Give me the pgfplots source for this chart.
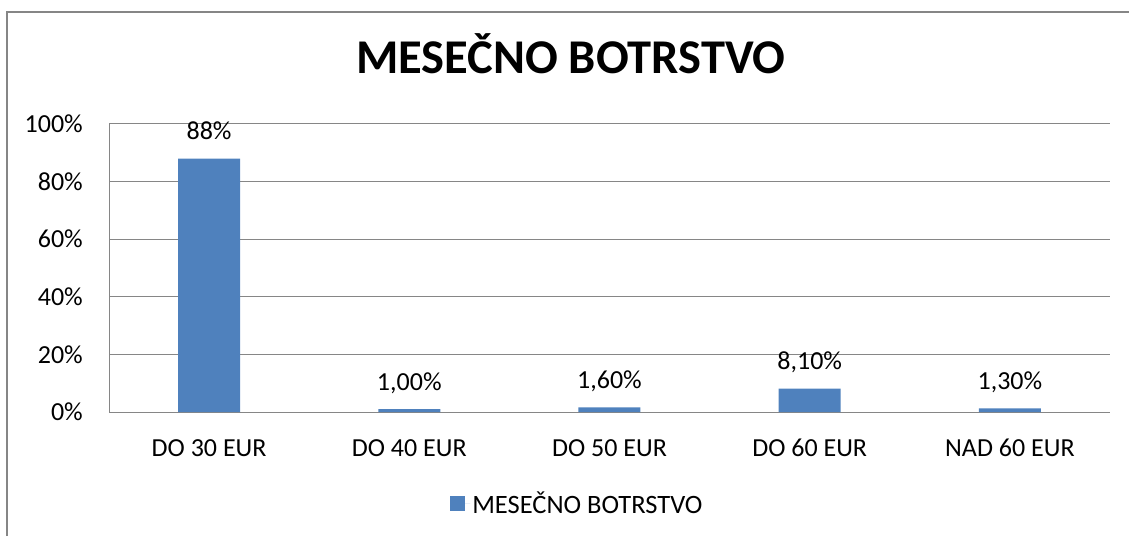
\documentclass[border=0pt]{standalone}
\usepackage{fontspec}
\setmainfont{Carlito}
\usepackage{pgfplots}
\pgfplotsset{compat=1.18}
\definecolor{barblue}{RGB}{79,129,189}
\definecolor{gridgray}{RGB}{134,134,134}
\definecolor{framegray}{RGB}{134,134,134}
\begin{document}
\begin{tikzpicture}
\useasboundingbox (0pt,0pt) rectangle (1129pt,536pt);
\draw[framegray, line width=2pt] (7pt,0pt) -- (7pt,524pt) -- (1129pt,524pt);
\begin{axis}[
  at={(109pt,124pt)}, anchor=south west,
  scale only axis, width=1001pt, height=288pt,
  ybar, bar width=62pt,
  xmin=-0.5, xmax=4.5, ymin=0, ymax=100,
  xtick={0,...,4},
  xticklabels={DO 30 EUR, DO 40 EUR, DO 50 EUR, DO 60 EUR, NAD 60 EUR},
  ytick={0,20,...,100},
  yticklabels={0\%,20\%,40\%,60\%,80\%,100\%},
  axis x line*=bottom, axis y line*=left,
  axis line style={gridgray, line width=1pt, -},
  ymajorgrids, grid style={gridgray, line width=1pt},
  major tick length=0pt,
  tick style={draw=none},
  font=\fontsize{26}{30}\selectfont,
  xticklabel style={anchor=base, inner sep=0pt, yshift=-44pt},
  yticklabel style={anchor=east, inner sep=0pt, xshift=-26pt},
  title={MESEČNO BOTRSTVO},
  title style={at={(0.4615,1.1528)}, anchor=base, font=\bfseries\fontsize{48.5}{54}\selectfont, inner sep=0pt},
  nodes near coords, point meta=explicit symbolic,
  nodes near coords style={anchor=base, inner sep=0pt, yshift=19pt, font=\fontsize{26}{30}\selectfont},
  legend style={at={(0.468,-0.316)}, anchor=center, draw=none, fill=none, font=\fontsize{26.5}{30}\selectfont},
  legend image code/.code={\path[#1,draw=none] (0pt,-7.5pt) rectangle (15pt,7.5pt); \path (0pt,0pt) -- (20pt,0pt);},
]
\addplot[fill=barblue, draw=none] coordinates {(0,88) [88\%] (1,1) [1,00\%] (2,1.6) [1,60\%] (3,8.1) [8,10\%] (4,1.3) [1,30\%]};
\legend{MESEČNO BOTRSTVO}
\end{axis}
\end{tikzpicture}
\end{document}
